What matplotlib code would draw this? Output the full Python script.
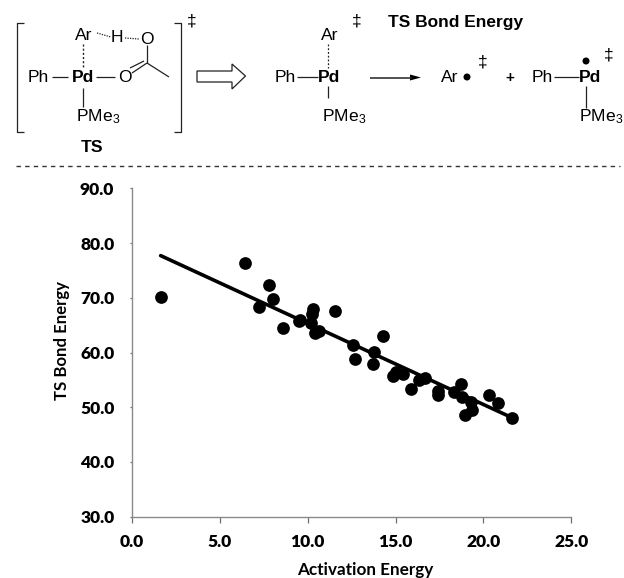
import matplotlib
matplotlib.use("Agg")
import matplotlib.pyplot as plt
from matplotlib.patches import Polygon, Circle

plt.rcParams["mathtext.fontset"] = "custom"
plt.rcParams["mathtext.rm"] = "Liberation Sans"
plt.rcParams["mathtext.default"] = "rm"

activation = [1.63, 6.42, 7.78, 8.01, 7.25, 8.59, 9.49, 9.56, 10.32, 10.24, 10.21, 10.39, 10.64, 11.54,
              12.57, 12.67, 14.30, 13.76, 13.74, 14.88, 15.04, 15.41, 15.87, 16.34, 16.70, 17.44, 17.44,
              18.34, 18.74, 18.78, 19.28, 19.34, 18.94, 20.34, 20.84, 21.62]
bond = [70.2, 76.3, 72.3, 69.8, 68.4, 64.5, 65.7, 66.0, 68.0, 67.0, 65.4, 63.5, 63.9, 67.5,
        61.3, 58.8, 63.0, 60.1, 57.9, 55.7, 56.5, 56.0, 53.4, 55.0, 55.4, 52.2, 53.0,
        52.7, 54.3, 51.9, 50.9, 49.5, 48.6, 52.2, 50.8, 48.1]
trend_x = [1.63, 21.62]
trend_y = [77.7, 48.1]
x_ticks = [0, 5, 10, 15, 20, 25]
y_ticks = [30, 40, 50, 60, 70, 80, 90]

W, H = 624, 578
fig = plt.figure(figsize=(W/100, H/100), dpi=100)
ax = fig.add_axes([132/W, 1-516.7/H, 439.3/W, 328.4/H])
ax.scatter(activation, bond, s=84, c="black", linewidths=0, zorder=3, clip_on=False)
ax.plot(trend_x, trend_y, color="black", lw=2.6, zorder=2, solid_capstyle="round")
ax.set_xlim(0, 25)
ax.set_ylim(30, 90)
ax.set_xticks(x_ticks, [f"{v:.1f}" for v in x_ticks])
ax.set_yticks(y_ticks, [f"{v:.1f}" for v in y_ticks])
for s in ("top", "right"):
    ax.spines[s].set_visible(False)
for s in ("left", "bottom"):
    ax.spines[s].set_color("#8a8a8a")
    ax.spines[s].set_linewidth(1.0)
ax.tick_params(axis="x", color="#707070", length=4.2, width=0.9, pad=8)
ax.tick_params(axis="y", color="#707070", length=1.2, width=0.9, pad=11.5)
for t in ax.get_xticklabels() + ax.get_yticklabels():
    t.set_family("Lato"); t.set_weight("heavy"); t.set_fontsize(12.5); t.set_color("black")

# Overlay in pixel coordinates: reaction scheme and axis titles
ov = fig.add_axes([0, 0, 1, 1], zorder=5)
ov.set_xlim(0, W); ov.set_ylim(H, 0); ov.axis("off"); ov.patch.set_alpha(0)

def T(x, y, s, bold=False, size=12.6, fam="Liberation Sans"):
    ov.text(x, y, s, ha="center", va="center", family=fam, fontsize=size,
            weight="bold" if bold else "normal", color="black")

def L(xs, ys, lw=0.9, ls="-", c="#222222"):
    ov.plot(xs, ys, color=c, lw=lw, ls=ls, solid_capstyle="butt", dash_capstyle="butt")

T(365, 570, "Activation Energy", True, 12.3, "Lato")
ov.text(61.5, 340, "TS Bond Energy", rotation=90, ha="center", va="center",
        family="Lato", weight="bold", fontsize=12.1)

# Brackets
L([24, 16.5, 16.5, 24], [23, 23, 132, 132], 0.9)
L([174, 180.5, 180.5, 174], [23, 23, 132, 132], 0.9)
T(192, 21, "‡", size=12.5); T(357, 21, "‡", size=12.5); T(483, 62, "‡", size=12.5); T(609, 55, "‡", size=12.5)

# TS structure
T(84, 36, "Ar"); T(117, 38, "H"); T(147, 39, "O")
T(38, 78, "Ph"); T(83, 78, "Pd", True); T(125, 78, "O")
T(98, 117, "PMe$_3$"); T(92, 147, "TS", True)
L([52, 68], [77, 77]); L([96, 115], [77, 77]); L([82.7, 82.7], [88, 107])
L([82.5, 82.5], [44, 68], 1.0, (0, (1.5, 1.5)))
L([97, 111], [33, 37], 0.9, (0, (1, 1))); L([125, 139], [38, 39], 0.9, (0, (1, 1)))
L([147, 147], [45, 63]); L([132, 147], [73, 63]); L([130, 144], [68, 61]); L([147, 169], [63, 77])

# Hollow arrow
ov.add_patch(Polygon([(197, 71), (232, 71), (232, 64), (245.5, 76), (232, 89), (232, 82), (197, 82)],
                     closed=True, fc="white", ec="#222222", lw=0.9))

# Middle fragment
T(285, 78, "Ph"); T(329, 78, "Pd", True); T(330, 36, "Ar"); T(344, 117, "PMe$_3$")
L([297, 318], [77, 77]); L([328, 328], [86, 98])
L([328, 328], [44, 68], 0.9, (0, (1.5, 1.5)))
T(455.5, 23, "TS Bond Energy", True, 12.5)

# Reaction arrow
L([370, 412], [77.5, 77.5], 1.1)
ov.add_patch(Polygon([(410, 74.5), (421, 77.5), (410, 80.5)], closed=True, fc="black", ec="none"))

# Products
T(450, 77, "Ar"); ov.add_patch(Circle((467, 77), 3.5, fc="black", ec="none"))
T(510, 78, "+", True, 11)
T(542, 78, "Ph"); L([554, 579], [77, 77]); T(590, 78, "Pd", True)
ov.add_patch(Circle((586, 61), 3.5, fc="black", ec="none"))
L([586, 586], [86, 108]); T(601, 117, "PMe$_3$")

# Separator
L([16, 620], [165.7, 165.7], 1.0, (0, (3.2, 3.0)), "#333333")

fig.savefig("out.png", dpi=100)
